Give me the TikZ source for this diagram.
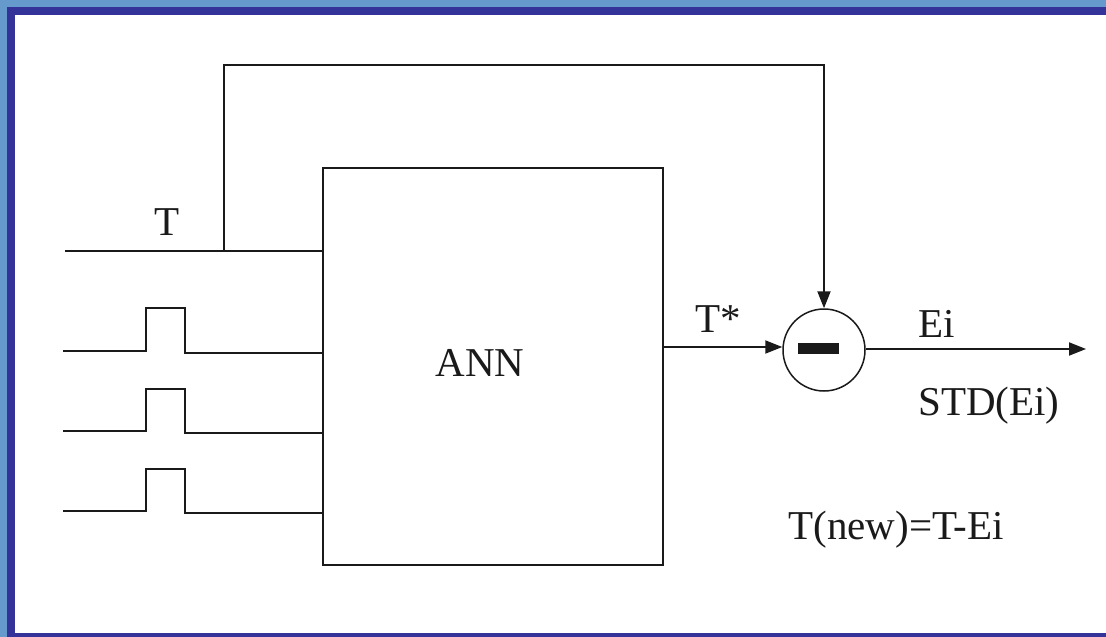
\documentclass[tikz,border=0pt]{standalone}
\usepackage{fontspec}
\setmainfont{Liberation Serif}
\usetikzlibrary{arrows.meta}
\definecolor{lightframe}{HTML}{6699CC}
\definecolor{darkframe}{HTML}{333399}
\definecolor{ink}{HTML}{1A1A1A}
\begin{document}
\begin{tikzpicture}[x=1pt,y=-1pt,
  wire/.style={draw=ink,line width=2pt},
  arr/.style={wire,-{Triangle[length=17pt,width=13pt]}},
  lbl/.style={anchor=base,inner sep=0pt,font=\fontsize{41}{48}\selectfont,text=ink}]
% canvas and frame
\fill[white] (0,0) rectangle (1106,637);
\useasboundingbox (0,0) rectangle (1106,637);
\fill[lightframe] (0,0) rectangle (1106,7);
\fill[lightframe] (0,0) rectangle (7,637);
\fill[darkframe] (7,7) rectangle (1106,15);
\fill[darkframe] (7,7) rectangle (15,637);
\fill[darkframe] (7,633) rectangle (1106,637);
% main blocks
\node[wire,rectangle,minimum width=340pt,minimum height=397pt,inner sep=0pt] (ann) at (493,366.5) {};
\node[lbl] (annlabel) at (480,376) {ANN};
\node[draw=ink,line width=1.5pt,circle,minimum size=82pt,inner sep=0pt] (sub) at (824,350) {};
\node[fill=ink,rectangle,minimum width=41pt,minimum height=11pt,inner sep=0pt] (minus) at (818.5,348.5) {};
% T input and feedback
\coordinate (tstart) at (65,251);
\coordinate (tin) at (323,251);
\coordinate (tbranch) at (224,251);
\draw[wire] (tstart) -- (tin);
\draw[arr] (tbranch) -- (224,65) -- (824,65) -- (sub.north);
\node[lbl] (tlabel) at (167,235) {T};
% pulse inputs
\foreach \i/\yl/\yr/\yt in {1/351/353/308, 2/431/433/389, 3/511/513/469}{
  \coordinate (p\i a) at (63,\yl);
  \coordinate (p\i b) at (146,\yl);
  \coordinate (p\i c) at (146,\yt);
  \coordinate (p\i d) at (185,\yt);
  \coordinate (p\i e) at (185,\yr);
  \coordinate (p\i f) at (323,\yr);
  \draw[wire] (p\i a) -- (p\i b) -- (p\i c) -- (p\i d) -- (p\i e) -- (p\i f);
}
% output of ANN
\coordinate (annout) at (663,347);
\draw[arr] (annout) -- (annout -| sub.west);
\node[lbl] (tstar) at (718,332) {T*};
% error output
\coordinate (errend) at (1086,349);
\draw[arr] (sub.east |- errend) -- (errend);
\node[lbl] (ei) at (937,337) {Ei};
\node[lbl] (std) at (989,415) {STD(Ei)};
\node[lbl] (tnew) at (896,539) {T(new)=T-Ei};
\end{tikzpicture}
\end{document}
